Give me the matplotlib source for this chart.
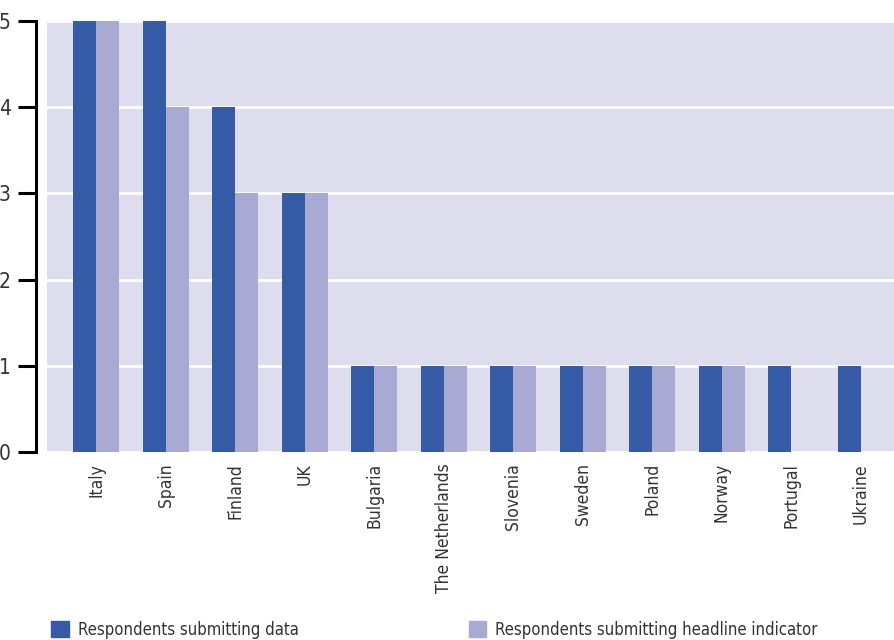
import matplotlib.pyplot as plt
import numpy as np
from matplotlib.patches import Patch

plt.rcParams['font.family'] = ['DejaVu Sans']
plt.rcParams['font.stretch'] = 'condensed'

countries = ['Italy', 'Spain', 'Finland', 'UK', 'Bulgaria', 'The Netherlands',
             'Slovenia', 'Sweden', 'Poland', 'Norway', 'Portugal', 'Ukraine']
submitting_data = [5, 5, 4, 3, 1, 1, 1, 1, 1, 1, 1, 1]
submitting_headline = [5, 4, 3, 3, 1, 1, 1, 1, 1, 1, 0, 0]

dark = '#355AA6'
light = '#A8AAD3'
bg = '#DEDDEE'
txt = '#333333'

fig = plt.figure(figsize=(8.95, 6.4), dpi=100)
ax = fig.add_axes([47 / 895, 188 / 640, 848 / 895, 431 / 640])
ax.set_facecolor(bg)

x = np.arange(len(countries))
w = 0.33
ax.bar(x - w / 2, submitting_data, w, color=dark, zorder=3)
ax.bar(x + w / 2, submitting_headline, w, color=light, zorder=3)

ax.set_ylim(0, 5)
ax.set_xlim(-0.705, 11.49)
ax.set_yticks([0, 1, 2, 3, 4, 5])
ax.yaxis.grid(True, color='white', linewidth=2, zorder=1)
ax.set_axisbelow(True)

for s in ['top', 'right', 'bottom']:
    ax.spines[s].set_visible(False)
ax.spines['left'].set_position(('outward', 8))
ax.spines['left'].set_linewidth(2.2)
ax.tick_params(axis='y', length=13, width=2.2, labelsize=15, labelcolor=txt, pad=5)
ax.tick_params(axis='x', length=0, labelsize=12.5, labelcolor=txt, pad=8)
ax.set_xticks(x)
ax.set_xticklabels(countries, rotation=90, va='top')

handles = [Patch(color=dark), Patch(color=light)]
fig.legend(handles, ['Respondents submitting data', 'Respondents submitting headline indicator'],
           loc='lower left', bbox_to_anchor=(36 / 895, -14 / 640), ncol=2, frameon=False,
           fontsize=12, labelcolor=txt, handlelength=1.05, handleheight=1.1,
           handletextpad=0.55, columnspacing=10.2)

fig.savefig('out.png', dpi=100)
